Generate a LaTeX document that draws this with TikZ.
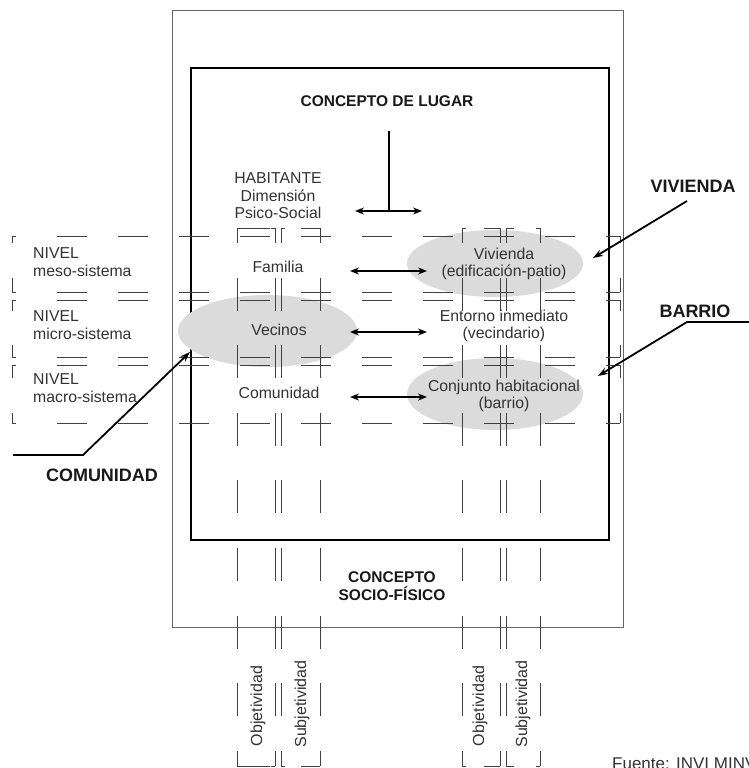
\documentclass[tikz,border=0pt]{standalone}
\usepackage{fontspec}
\setmainfont{Liberation Sans}
\usetikzlibrary{arrows.meta,shapes.geometric}
\tikzset{gridl/.style={draw=black!75, line width=0.75pt}}
\newcommand\gridH[3]{%
  \foreach \k in {0,...,9} {%
    \pgfmathsetmacro\hs{max(#2,57+61*\k)}%
    \pgfmathsetmacro\he{min(#3,87+61*\k)}%
    \ifdim\hs pt<\he pt \draw[gridl] (\hs,#1) -- (\he,#1);\fi
  }%
  \draw[gridl] (#2,#1) -- ++(4,0) (#3,#1) -- ++(-4,0);
}
\newcommand\gridV[3]{%
  \foreach \k in {0,...,8} {%
    \pgfmathsetmacro\vs{max(#2,210+67.6*\k)}%
    \pgfmathsetmacro\ve{min(#3,243+67.6*\k)}%
    \ifdim\vs pt<\ve pt \draw[gridl] (#1,\vs) -- (#1,\ve);\fi
  }%
}
\begin{document}
\begin{tikzpicture}[x=1pt,y=-1pt,
  txt/.style={font=\fontsize{15.8}{17.5}\selectfont, text=black!80, align=center, inner sep=0pt},
  ltxt/.style={txt, align=left, anchor=west},
  btxt/.style={font=\fontsize{15.5}{18}\selectfont\bfseries, text=black!90, align=center, inner sep=0pt},
  bigb/.style={font=\fontsize{18}{20}\selectfont\bfseries, text=black!90, inner sep=0pt},
  blob/.style={ellipse, fill=black!14, draw=none, inner sep=0pt},
  arr/.style={line width=1.8pt, {Stealth[length=9pt,width=7pt]}-{Stealth[length=9pt,width=7pt]}},
  pointer/.style={line width=1.8pt, -{Stealth[length=10pt,width=7pt]}},
  plain/.style={line width=1.8pt},
  vtxt/.style={font=\fontsize{16}{18}\selectfont, text=black!80, rotate=90, inner sep=0pt},
]
\useasboundingbox (0,0) rectangle (749,768);
\clip (0,0) rectangle (749,768);
\fill[white] (0,0) rectangle (749,768);

% frames
\draw[black!60, line width=0.9pt] (172,10) rectangle (623,627);
\draw[black, line width=1.05pt] (191,68) rectangle (609,540);

% grey blobs
\node[blob, minimum width=179pt, minimum height=72pt] (bVec) at (267.5,331) {};
\node[blob, minimum width=176pt, minimum height=67pt] (bViv) at (495,263.5) {};
\node[blob, minimum width=176pt, minimum height=72pt] (bBar) at (495,394) {};

% dashed grid: level rows
\foreach \ya/\yb in {236/292,300/357,365/423} {
  \gridH{\ya}{12}{620}
  \gridH{\yb}{12}{620}
  \gridV{12}{\ya}{\yb}
  \gridV{620}{\ya}{\yb}
}
% dashed grid: columns
\foreach \xa/\xb in {237/275,281/320,462/500,506/540} {
  \gridV{\xa}{228}{766}
  \gridV{\xb}{228}{766}
  \gridH{228}{\xa}{\xb}
  \gridH{766}{\xa}{\xb}
}

% texts
\node[btxt] (lugar) at (387,101) {CONCEPTO DE LUGAR};
\node[txt] (hab) at (278,196) {HABITANTE\\Dimensión\\Psico-Social};
\node[ltxt] (meso) at (33,262) {NIVEL\\meso-sistema};
\node[ltxt] (micro) at (33,325) {NIVEL\\micro-sistema};
\node[ltxt] (macro) at (33,388) {NIVEL\\macro-sistema};
\node[txt] (fam) at (278,267) {Familia};
\node[txt] (vec) at (279,330) {Vecinos};
\node[txt] (com) at (279,393) {Comunidad};
\node[txt] (viv) at (504,264) {Vivienda\\(edificación-patio)};
\node[txt] (ent) at (504,326) {Entorno inmediato\\(vecindario)};
\node[txt] (con) at (504,396) {Conjunto habitacional\\(barrio)};
\node[btxt] (socio) at (392,586) {CONCEPTO\\SOCIO-FÍSICO};
\node[bigb] (VIV) at (693,186) {VIVIENDA};
\node[bigb] (BAR) at (695,311) {BARRIO};
\node[bigb] (COM) at (102,475) {COMUNIDAD};
\node[vtxt] (obj1) at (258,706) {Objetividad};
\node[vtxt] (sub1) at (302,704) {Subjetividad};
\node[vtxt] (obj2) at (480,706) {Objetividad};
\node[vtxt] (sub2) at (523,704) {Subjetividad};
\node[font=\fontsize{17}{19}\selectfont, text=black!80, inner sep=0pt, anchor=north west] (src) at (612,758) {Fuente: INVI MINVU};

% concept arrow
\coordinate (lugarTop) at (389,131);
\coordinate (lugarMid) at (389,211);
\coordinate (lugarL) at (355,211);
\coordinate (lugarR) at (422,211);
\draw[plain] (lugarTop) -- (lugarMid);
\draw[arr] (lugarL) -- (lugarR);

% level arrows
\coordinate (a1L) at (350,271); \coordinate (a1R) at (427,271);
\coordinate (a2L) at (350,332); \coordinate (a2R) at (427,332);
\coordinate (a3L) at (350,397); \coordinate (a3R) at (427,397);
\draw[arr] (a1L) -- (a1R);
\draw[arr] (a2L) -- (a2R);
\draw[arr] (a3L) -- (a3R);

% pointers
\coordinate (vivS) at (687,201); \coordinate (vivT) at (593,258);
\draw[pointer] (vivS) -- (vivT);
\coordinate (barS) at (752,322); \coordinate (barK) at (687,322); \coordinate (barT) at (598,376);
\draw[pointer] (barS) -- (barK) -- (barT);
\coordinate (comS) at (13,455); \coordinate (comK) at (83,455); \coordinate (comT) at (190,352);
\draw[pointer] (comS) -- (comK) -- (comT);
\end{tikzpicture}
\end{document}
